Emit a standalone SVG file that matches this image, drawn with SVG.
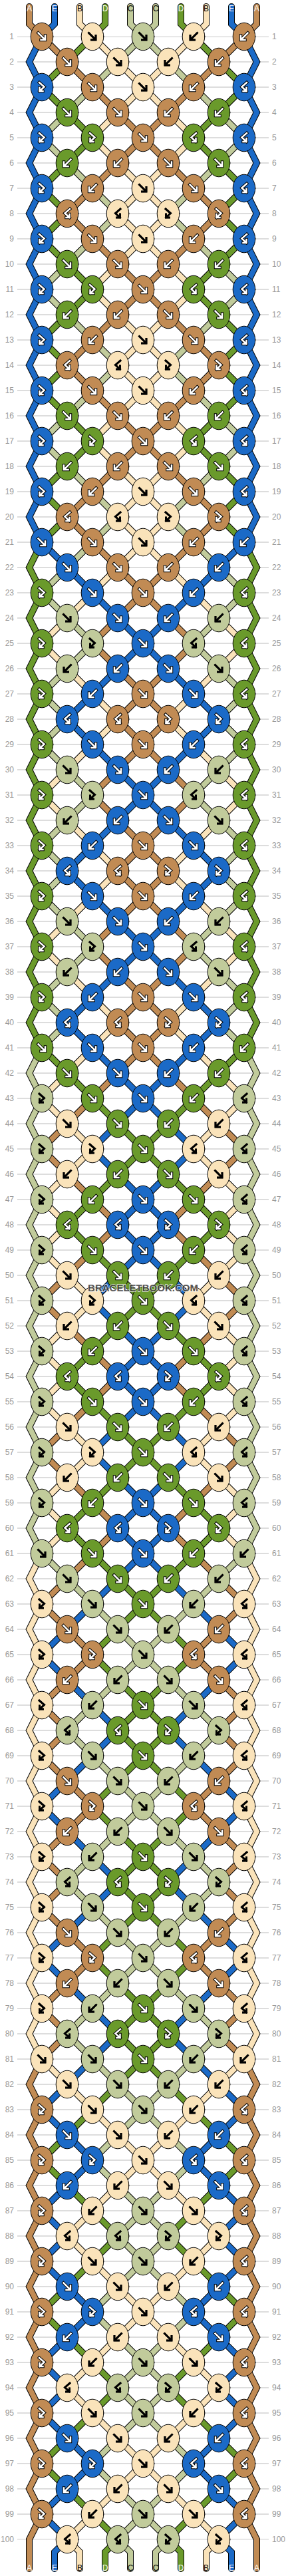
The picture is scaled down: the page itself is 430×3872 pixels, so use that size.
<svg xmlns="http://www.w3.org/2000/svg" width="430" height="3872" viewBox="0 0 430 3872">
<style>
.ln{font-family:"Liberation Sans",Arial,sans-serif;font-size:12px;fill:#999}
.lb{font-family:"Liberation Sans",Arial,sans-serif;font-size:12px;text-anchor:middle}
.sA{stroke:#C18B54}.sB{stroke:#FAE3BA}.sC{stroke:#C1CB9B}.sD{stroke:#6A9A2B}.sE{stroke:#1B6AC7}
.kA{fill:#C18B54;color:#fff;stroke-width:4.5}
.kB{fill:#FAE3BA;color:#000;stroke-width:3}
.kC{fill:#C1CB9B;color:#000;stroke-width:3}
.kD{fill:#6A9A2B;color:#fff;stroke-width:4.5}
.kE{fill:#1B6AC7;color:#fff;stroke-width:4.5}
</style>
<defs>
<pattern id="rl" patternUnits="userSpaceOnUse" x="0" y="54.5" width="430" height="38"><rect width="430" height="1" fill="#bbb"/></pattern>
<path id="aF" d="M-5.5-5.5L4 4M-1.5 5H5V-1.5"/>
<path id="aB" d="M5.5-5.5L-4 4M1.5 5H-5V-1.5"/>
<path id="aFB" d="M-4-7L3.5-0.5L-3.5 6M-3.5 1V6H1.5"/>
<path id="aBF" d="M4-7L-3.5-0.5L3.5 6M3.5 1V6H-1.5"/>
<g id="kF" stroke-linecap="square"><ellipse rx="16.8" ry="20.8" stroke="#000" stroke-width="1"/><use href="#aF" fill="none" stroke="#000"/><use href="#aF" fill="none" stroke="currentColor" stroke-width="2.5"/></g>
<g id="kB" stroke-linecap="square"><ellipse rx="16.8" ry="20.8" stroke="#000" stroke-width="1"/><use href="#aB" fill="none" stroke="#000"/><use href="#aB" fill="none" stroke="currentColor" stroke-width="2.5"/></g>
<g id="kFB" stroke-linecap="square"><ellipse rx="16.8" ry="20.8" stroke="#000" stroke-width="1"/><use href="#aFB" fill="none" stroke="#000"/><use href="#aFB" fill="none" stroke="currentColor" stroke-width="2.5"/></g>
<g id="kBF" stroke-linecap="square"><ellipse rx="16.8" ry="20.8" stroke="#000" stroke-width="1"/><use href="#aBF" fill="none" stroke="#000"/><use href="#aBF" fill="none" stroke="currentColor" stroke-width="2.5"/></g>
<path id="f0" d="M63 55L329 321L101 549L329 777L291 815"/>
<path id="f1" d="M63 55L44 93L63 131L44 169L63 207L44 245L63 283L44 321L63 359L44 397L63 435L44 473L63 511L44 549L63 587L44 625L63 663L44 701L63 739L44 777L63 815"/>
<path id="f2" d="M139 55L291 207L177 321L291 435L177 549L291 663L177 777L215 815"/>
<path id="f3" d="M139 55L63 131L139 207L63 283L101 321L63 359L139 435L63 511L101 549L63 587L139 663L63 739L101 777L63 815"/>
<path id="f4" d="M215 55L367 207L253 321L367 435L253 549L367 663L253 777L291 815"/>
<path id="f5" d="M215 55L63 207L177 321L63 435L177 549L63 663L177 777L139 815"/>
<path id="f6" d="M291 55L367 131L291 207L367 283L329 321L367 359L291 435L367 511L329 549L367 587L291 663L367 739L329 777L367 815"/>
<path id="f7" d="M291 55L139 207L253 321L139 435L253 549L139 663L253 777L215 815"/>
<path id="f8" d="M367 55L386 93L367 131L386 169L367 207L386 245L367 283L386 321L367 359L386 397L367 435L386 473L367 511L386 549L367 587L386 625L367 663L386 701L367 739L386 777L367 815"/>
<path id="f9" d="M367 55L101 321L329 549L101 777L139 815"/>
<g id="cyc"><use href="#f0"/><use href="#f1"/><use href="#f2"/><use href="#f3"/><use href="#f4"/><use href="#f5"/><use href="#f6"/><use href="#f7"/><use href="#f8"/><use href="#f9"/></g>
<path id="l0" d="M63 3095L329 3361L101 3589L329 3817L310 3836V3861"/>
<path id="l1" d="M63 3095L44 3133L63 3171L44 3209L63 3247L44 3285L63 3323L44 3361L63 3399L44 3437L63 3475L44 3513L63 3551L44 3589L63 3627L44 3665L63 3703L44 3741L63 3779L44 3817V3861"/>
<path id="l2" d="M139 3095L291 3247L177 3361L291 3475L177 3589L291 3703L177 3817L196 3836V3861"/>
<path id="l3" d="M139 3095L63 3171L139 3247L63 3323L101 3361L63 3399L139 3475L63 3551L101 3589L63 3627L139 3703L63 3779L101 3817L82 3836V3861"/>
<path id="l4" d="M215 3095L367 3247L253 3361L367 3475L253 3589L367 3703L253 3817L272 3836V3861"/>
<path id="l5" d="M215 3095L63 3247L177 3361L63 3475L177 3589L63 3703L177 3817L158 3836V3861"/>
<path id="l6" d="M291 3095L367 3171L291 3247L367 3323L329 3361L367 3399L291 3475L367 3551L329 3589L367 3627L291 3703L367 3779L329 3817L348 3836V3861"/>
<path id="l7" d="M291 3095L139 3247L253 3361L139 3475L253 3589L139 3703L253 3817L234 3836V3861"/>
<path id="l8" d="M367 3095L386 3133L367 3171L386 3209L367 3247L386 3285L367 3323L386 3361L367 3399L386 3437L367 3475L386 3513L367 3551L386 3589L367 3627L386 3665L367 3703L386 3741L367 3779L386 3817V3861"/>
<path id="l9" d="M367 3095L101 3361L329 3589L101 3817L120 3836V3861"/>
<path id="tt" d="M44 10V36L63 55M82 10V36L63 55M120 10V36L139 55M158 10V36L139 55M196 10V36L215 55M234 10V36L215 55M272 10V36L291 55M310 10V36L291 55M348 10V36L367 55M386 10V36L367 55"/>
<g id="K0"><use href="#kF" x="63" y="55"/><use href="#kF" x="101" y="93"/><use href="#kF" x="139" y="131"/><use href="#kF" x="177" y="169"/><use href="#kF" x="215" y="207"/><use href="#kF" x="253" y="245"/><use href="#kF" x="291" y="283"/><use href="#kFB" x="329" y="321"/><use href="#kB" x="291" y="359"/><use href="#kB" x="253" y="397"/><use href="#kB" x="177" y="473"/><use href="#kB" x="139" y="511"/><use href="#kBF" x="101" y="549"/><use href="#kF" x="139" y="587"/><use href="#kF" x="177" y="625"/><use href="#kF" x="215" y="663"/><use href="#kF" x="253" y="701"/><use href="#kF" x="291" y="739"/><use href="#kFB" x="329" y="777"/></g>
<g id="K1"><use href="#kFB" x="63" y="131"/><use href="#kFB" x="63" y="207"/><use href="#kFB" x="63" y="283"/><use href="#kFB" x="63" y="359"/><use href="#kFB" x="63" y="435"/><use href="#kFB" x="63" y="511"/><use href="#kFB" x="63" y="587"/><use href="#kFB" x="63" y="663"/><use href="#kFB" x="63" y="739"/></g>
<g id="K2"><use href="#kF" x="139" y="55"/><use href="#kF" x="177" y="93"/><use href="#kF" x="215" y="131"/><use href="#kBF" x="177" y="321"/><use href="#kF" x="215" y="359"/><use href="#kBF" x="177" y="549"/><use href="#kF" x="215" y="587"/><use href="#kBF" x="177" y="777"/></g>
<g id="K3"><use href="#kF" x="101" y="169"/><use href="#kFB" x="139" y="207"/><use href="#kB" x="101" y="245"/><use href="#kF" x="101" y="397"/><use href="#kFB" x="139" y="435"/><use href="#kB" x="101" y="473"/><use href="#kF" x="101" y="625"/><use href="#kFB" x="139" y="663"/><use href="#kB" x="101" y="701"/></g>
<g id="K4"><use href="#kF" x="215" y="55"/></g>
<g id="K6"><use href="#kB" x="329" y="169"/><use href="#kBF" x="291" y="207"/><use href="#kF" x="329" y="245"/><use href="#kB" x="329" y="397"/><use href="#kBF" x="291" y="435"/><use href="#kF" x="329" y="473"/><use href="#kB" x="329" y="625"/><use href="#kBF" x="291" y="663"/><use href="#kF" x="329" y="701"/></g>
<g id="K7"><use href="#kB" x="291" y="55"/><use href="#kB" x="253" y="93"/><use href="#kF" x="215" y="283"/><use href="#kFB" x="253" y="321"/><use href="#kF" x="215" y="511"/><use href="#kFB" x="253" y="549"/><use href="#kF" x="215" y="739"/><use href="#kFB" x="253" y="777"/></g>
<g id="K8"><use href="#kBF" x="367" y="131"/><use href="#kBF" x="367" y="207"/><use href="#kBF" x="367" y="283"/><use href="#kBF" x="367" y="359"/><use href="#kBF" x="367" y="435"/><use href="#kBF" x="367" y="511"/><use href="#kBF" x="367" y="587"/><use href="#kBF" x="367" y="663"/><use href="#kBF" x="367" y="739"/></g>
<g id="K9"><use href="#kB" x="367" y="55"/><use href="#kB" x="329" y="93"/><use href="#kB" x="291" y="131"/><use href="#kB" x="253" y="169"/><use href="#kB" x="177" y="245"/><use href="#kB" x="139" y="283"/><use href="#kBF" x="101" y="321"/><use href="#kF" x="139" y="359"/><use href="#kF" x="177" y="397"/><use href="#kF" x="215" y="435"/><use href="#kF" x="253" y="473"/><use href="#kF" x="291" y="511"/><use href="#kFB" x="329" y="549"/><use href="#kB" x="291" y="587"/><use href="#kB" x="253" y="625"/><use href="#kB" x="177" y="701"/><use href="#kB" x="139" y="739"/><use href="#kBF" x="101" y="777"/></g>
</defs>
<rect width="430" height="3872" fill="#fff"/>
<g id="rows">
<rect x="26" y="54.5" width="378" height="3763" fill="url(#rl)"/>
<g class="ln" text-anchor="end">
<text x="21" y="59">1</text><text x="21" y="97">2</text><text x="21" y="135">3</text><text x="21" y="173">4</text><text x="21" y="211">5</text><text x="21" y="249">6</text><text x="21" y="287">7</text><text x="21" y="325">8</text><text x="21" y="363">9</text><text x="21" y="401">10</text>
<text x="21" y="439">11</text><text x="21" y="477">12</text><text x="21" y="515">13</text><text x="21" y="553">14</text><text x="21" y="591">15</text><text x="21" y="629">16</text><text x="21" y="667">17</text><text x="21" y="705">18</text><text x="21" y="743">19</text><text x="21" y="781">20</text>
<text x="21" y="819">21</text><text x="21" y="857">22</text><text x="21" y="895">23</text><text x="21" y="933">24</text><text x="21" y="971">25</text><text x="21" y="1009">26</text><text x="21" y="1047">27</text><text x="21" y="1085">28</text><text x="21" y="1123">29</text><text x="21" y="1161">30</text>
<text x="21" y="1199">31</text><text x="21" y="1237">32</text><text x="21" y="1275">33</text><text x="21" y="1313">34</text><text x="21" y="1351">35</text><text x="21" y="1389">36</text><text x="21" y="1427">37</text><text x="21" y="1465">38</text><text x="21" y="1503">39</text><text x="21" y="1541">40</text>
<text x="21" y="1579">41</text><text x="21" y="1617">42</text><text x="21" y="1655">43</text><text x="21" y="1693">44</text><text x="21" y="1731">45</text><text x="21" y="1769">46</text><text x="21" y="1807">47</text><text x="21" y="1845">48</text><text x="21" y="1883">49</text><text x="21" y="1921">50</text>
<text x="21" y="1959">51</text><text x="21" y="1997">52</text><text x="21" y="2035">53</text><text x="21" y="2073">54</text><text x="21" y="2111">55</text><text x="21" y="2149">56</text><text x="21" y="2187">57</text><text x="21" y="2225">58</text><text x="21" y="2263">59</text><text x="21" y="2301">60</text>
<text x="21" y="2339">61</text><text x="21" y="2377">62</text><text x="21" y="2415">63</text><text x="21" y="2453">64</text><text x="21" y="2491">65</text><text x="21" y="2529">66</text><text x="21" y="2567">67</text><text x="21" y="2605">68</text><text x="21" y="2643">69</text><text x="21" y="2681">70</text>
<text x="21" y="2719">71</text><text x="21" y="2757">72</text><text x="21" y="2795">73</text><text x="21" y="2833">74</text><text x="21" y="2871">75</text><text x="21" y="2909">76</text><text x="21" y="2947">77</text><text x="21" y="2985">78</text><text x="21" y="3023">79</text><text x="21" y="3061">80</text>
<text x="21" y="3099">81</text><text x="21" y="3137">82</text><text x="21" y="3175">83</text><text x="21" y="3213">84</text><text x="21" y="3251">85</text><text x="21" y="3289">86</text><text x="21" y="3327">87</text><text x="21" y="3365">88</text><text x="21" y="3403">89</text><text x="21" y="3441">90</text>
<text x="21" y="3479">91</text><text x="21" y="3517">92</text><text x="21" y="3555">93</text><text x="21" y="3593">94</text><text x="21" y="3631">95</text><text x="21" y="3669">96</text><text x="21" y="3707">97</text><text x="21" y="3745">98</text><text x="21" y="3783">99</text><text x="21" y="3821">100</text>
</g>
<g class="ln">
<text x="409" y="59">1</text><text x="409" y="97">2</text><text x="409" y="135">3</text><text x="409" y="173">4</text><text x="409" y="211">5</text><text x="409" y="249">6</text><text x="409" y="287">7</text><text x="409" y="325">8</text><text x="409" y="363">9</text><text x="409" y="401">10</text>
<text x="409" y="439">11</text><text x="409" y="477">12</text><text x="409" y="515">13</text><text x="409" y="553">14</text><text x="409" y="591">15</text><text x="409" y="629">16</text><text x="409" y="667">17</text><text x="409" y="705">18</text><text x="409" y="743">19</text><text x="409" y="781">20</text>
<text x="409" y="819">21</text><text x="409" y="857">22</text><text x="409" y="895">23</text><text x="409" y="933">24</text><text x="409" y="971">25</text><text x="409" y="1009">26</text><text x="409" y="1047">27</text><text x="409" y="1085">28</text><text x="409" y="1123">29</text><text x="409" y="1161">30</text>
<text x="409" y="1199">31</text><text x="409" y="1237">32</text><text x="409" y="1275">33</text><text x="409" y="1313">34</text><text x="409" y="1351">35</text><text x="409" y="1389">36</text><text x="409" y="1427">37</text><text x="409" y="1465">38</text><text x="409" y="1503">39</text><text x="409" y="1541">40</text>
<text x="409" y="1579">41</text><text x="409" y="1617">42</text><text x="409" y="1655">43</text><text x="409" y="1693">44</text><text x="409" y="1731">45</text><text x="409" y="1769">46</text><text x="409" y="1807">47</text><text x="409" y="1845">48</text><text x="409" y="1883">49</text><text x="409" y="1921">50</text>
<text x="409" y="1959">51</text><text x="409" y="1997">52</text><text x="409" y="2035">53</text><text x="409" y="2073">54</text><text x="409" y="2111">55</text><text x="409" y="2149">56</text><text x="409" y="2187">57</text><text x="409" y="2225">58</text><text x="409" y="2263">59</text><text x="409" y="2301">60</text>
<text x="409" y="2339">61</text><text x="409" y="2377">62</text><text x="409" y="2415">63</text><text x="409" y="2453">64</text><text x="409" y="2491">65</text><text x="409" y="2529">66</text><text x="409" y="2567">67</text><text x="409" y="2605">68</text><text x="409" y="2643">69</text><text x="409" y="2681">70</text>
<text x="409" y="2719">71</text><text x="409" y="2757">72</text><text x="409" y="2795">73</text><text x="409" y="2833">74</text><text x="409" y="2871">75</text><text x="409" y="2909">76</text><text x="409" y="2947">77</text><text x="409" y="2985">78</text><text x="409" y="3023">79</text><text x="409" y="3061">80</text>
<text x="409" y="3099">81</text><text x="409" y="3137">82</text><text x="409" y="3175">83</text><text x="409" y="3213">84</text><text x="409" y="3251">85</text><text x="409" y="3289">86</text><text x="409" y="3327">87</text><text x="409" y="3365">88</text><text x="409" y="3403">89</text><text x="409" y="3441">90</text>
<text x="409" y="3479">91</text><text x="409" y="3517">92</text><text x="409" y="3555">93</text><text x="409" y="3593">94</text><text x="409" y="3631">95</text><text x="409" y="3669">96</text><text x="409" y="3707">97</text><text x="409" y="3745">98</text><text x="409" y="3783">99</text><text x="409" y="3821">100</text>
</g>
</g>
<g id="connectors" fill="none" stroke-linecap="round" stroke-linejoin="miter">
<g stroke="#000" stroke-width="10">
<use href="#cyc"/><use href="#cyc" y="760"/><use href="#cyc" y="1520"/><use href="#cyc" y="2280"/>
<use href="#l0"/><use href="#l1"/><use href="#l2"/><use href="#l3"/><use href="#l4"/><use href="#l5"/><use href="#l6"/><use href="#l7"/><use href="#l8"/><use href="#l9"/>
<use href="#tt"/>
</g>
<g stroke-width="8">
<use href="#f0" class="sA"/><use href="#f1" class="sE"/><use href="#f2" class="sB"/><use href="#f3" class="sD"/><use href="#f4" class="sC"/><use href="#f5" class="sC"/><use href="#f6" class="sD"/><use href="#f7" class="sB"/><use href="#f8" class="sE"/><use href="#f9" class="sA"/>
<use href="#f0" y="760" class="sE"/><use href="#f1" y="760" class="sD"/><use href="#f2" y="760" class="sA"/><use href="#f3" y="760" class="sC"/><use href="#f4" y="760" class="sB"/><use href="#f5" y="760" class="sB"/><use href="#f6" y="760" class="sC"/><use href="#f7" y="760" class="sA"/><use href="#f8" y="760" class="sD"/><use href="#f9" y="760" class="sE"/>
<use href="#f0" y="1520" class="sD"/><use href="#f1" y="1520" class="sC"/><use href="#f2" y="1520" class="sE"/><use href="#f3" y="1520" class="sB"/><use href="#f4" y="1520" class="sA"/><use href="#f5" y="1520" class="sA"/><use href="#f6" y="1520" class="sB"/><use href="#f7" y="1520" class="sE"/><use href="#f8" y="1520" class="sC"/><use href="#f9" y="1520" class="sD"/>
<use href="#f0" y="2280" class="sC"/><use href="#f1" y="2280" class="sB"/><use href="#f2" y="2280" class="sD"/><use href="#f3" y="2280" class="sA"/><use href="#f4" y="2280" class="sE"/><use href="#f5" y="2280" class="sE"/><use href="#f6" y="2280" class="sA"/><use href="#f7" y="2280" class="sD"/><use href="#f8" y="2280" class="sB"/><use href="#f9" y="2280" class="sC"/>
<use href="#l0" class="sB"/><use href="#l1" class="sA"/><use href="#l2" class="sC"/><use href="#l3" class="sE"/><use href="#l4" class="sD"/><use href="#l5" class="sD"/><use href="#l6" class="sE"/><use href="#l7" class="sC"/><use href="#l8" class="sA"/><use href="#l9" class="sB"/>
<path class="sA" d="M44 10V36L63 55"/><path class="sE" d="M82 10V36L63 55"/><path class="sB" d="M120 10V36L139 55"/><path class="sD" d="M158 10V36L139 55"/><path class="sC" d="M196 10V36L215 55"/><path class="sC" d="M234 10V36L215 55"/><path class="sD" d="M272 10V36L291 55"/><path class="sB" d="M310 10V36L291 55"/><path class="sE" d="M348 10V36L367 55"/><path class="sA" d="M386 10V36L367 55"/>
</g>
</g>
<g id="labels" class="lb">
<text x="44" y="17" fill="#fff">A</text><text x="82" y="17" fill="#fff">E</text><text x="120" y="17" fill="#000">B</text><text x="158" y="17" fill="#fff">D</text><text x="196" y="17" fill="#000">C</text><text x="234" y="17" fill="#000">C</text><text x="272" y="17" fill="#fff">D</text><text x="310" y="17" fill="#000">B</text><text x="348" y="17" fill="#fff">E</text><text x="386" y="17" fill="#fff">A</text>
<text x="44" y="3864" fill="#fff">A</text><text x="82" y="3864" fill="#fff">E</text><text x="120" y="3864" fill="#000">B</text><text x="158" y="3864" fill="#fff">D</text><text x="196" y="3864" fill="#000">C</text><text x="234" y="3864" fill="#000">C</text><text x="272" y="3864" fill="#fff">D</text><text x="310" y="3864" fill="#000">B</text><text x="348" y="3864" fill="#fff">E</text><text x="386" y="3864" fill="#fff">A</text>
</g>
<g id="knots">
<g id="cycle1"><use href="#K0" class="kA"/><use href="#K1" class="kE"/><use href="#K2" class="kB"/><use href="#K3" class="kD"/><use href="#K4" class="kC"/><use href="#K6" class="kD"/><use href="#K7" class="kB"/><use href="#K8" class="kE"/><use href="#K9" class="kA"/></g>
<g id="cycle2"><use href="#K0" y="760" class="kE"/><use href="#K1" y="760" class="kD"/><use href="#K2" y="760" class="kA"/><use href="#K3" y="760" class="kC"/><use href="#K4" y="760" class="kB"/><use href="#K6" y="760" class="kC"/><use href="#K7" y="760" class="kA"/><use href="#K8" y="760" class="kD"/><use href="#K9" y="760" class="kE"/></g>
<g id="cycle3"><use href="#K0" y="1520" class="kD"/><use href="#K1" y="1520" class="kC"/><use href="#K2" y="1520" class="kE"/><use href="#K3" y="1520" class="kB"/><use href="#K4" y="1520" class="kA"/><use href="#K6" y="1520" class="kB"/><use href="#K7" y="1520" class="kE"/><use href="#K8" y="1520" class="kC"/><use href="#K9" y="1520" class="kD"/></g>
<g id="cycle4"><use href="#K0" y="2280" class="kC"/><use href="#K1" y="2280" class="kB"/><use href="#K2" y="2280" class="kD"/><use href="#K3" y="2280" class="kA"/><use href="#K4" y="2280" class="kE"/><use href="#K6" y="2280" class="kA"/><use href="#K7" y="2280" class="kD"/><use href="#K8" y="2280" class="kB"/><use href="#K9" y="2280" class="kC"/></g>
<g id="cycle5"><use href="#K0" y="3040" class="kB"/><use href="#K1" y="3040" class="kA"/><use href="#K2" y="3040" class="kC"/><use href="#K3" y="3040" class="kE"/><use href="#K4" y="3040" class="kD"/><use href="#K6" y="3040" class="kE"/><use href="#K7" y="3040" class="kC"/><use href="#K8" y="3040" class="kA"/><use href="#K9" y="3040" class="kB"/></g>
</g>
<text id="watermark" x="215" y="1941" text-anchor="middle" font-family="'Liberation Sans',Arial,sans-serif" font-weight="bold" font-size="15" fill="#3a3a3a" stroke="#fff" stroke-width="1.5" paint-order="stroke" opacity="0.85">BRACELETBOOK.COM</text>
</svg>
